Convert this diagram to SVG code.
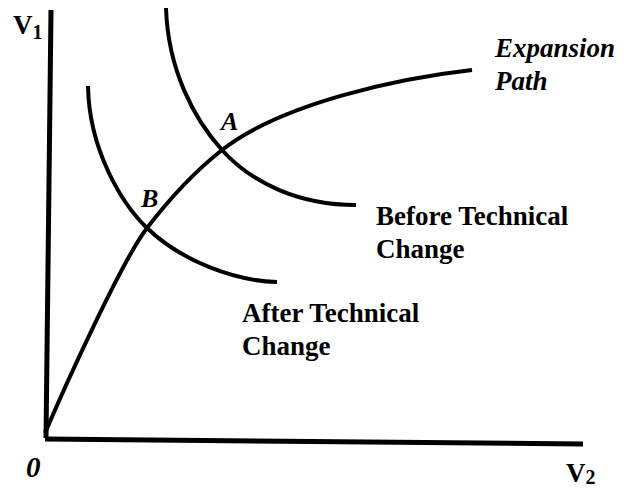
<svg xmlns="http://www.w3.org/2000/svg" width="625" height="489" viewBox="0 0 625 489">
  <style>
    .axis { fill: none; stroke: #000; stroke-width: 5; stroke-linecap: butt; }
    .curve { fill: none; stroke: #000; stroke-width: 4; stroke-linecap: butt; }
    .lbl { font-family: "Liberation Serif", "Times New Roman", serif; font-weight: bold; fill: #000; }
    .it { font-style: italic; }
  </style>
  <rect width="625" height="489" fill="#fff"/>

  <g id="connectors">
    <!-- axes -->
    <path id="axis-v1" class="axis" d="M51,10 L46,438"/>
    <path id="axis-v2" class="axis" d="M45,439 L583,444"/>
    <!-- expansion path -->
    <path id="expansion-path" class="curve" d="M45,433 C65,386 122,260.5 147,228 C172,195.5 197,169.7 222,150 C282,103 400,78 472,70"/>
    <!-- isoquant before technical change -->
    <path id="isoquant-before" class="curve" d="M166,8 C168,70 194,119 222,150 C252,183.5 300,205 356,205"/>
    <!-- isoquant after technical change -->
    <path id="isoquant-after" class="curve" d="M88,86 C89,150 122,204 147,228 C182,261.5 235,281 277,282"/>
  </g>

  <g id="axis-labels">
    <text class="lbl" x="13" y="34" font-size="27">V<tspan font-size="20" dy="5">1</tspan></text>
    <text class="lbl" x="566" y="482" font-size="27">V<tspan font-size="20" dy="2">2</tspan></text>
    <text class="lbl it" x="26" y="477" font-size="29">0</text>
  </g>

  <g id="point-a">
    <text class="lbl it" x="221" y="130" font-size="26">A</text>
  </g>
  <g id="point-b">
    <text class="lbl it" x="141" y="207" font-size="26">B</text>
  </g>

  <g id="label-expansion">
    <text class="lbl it" x="495" y="57" font-size="27">Expansion</text>
    <text class="lbl it" x="495" y="90" font-size="27">Path</text>
  </g>
  <g id="label-before">
    <text class="lbl" x="376" y="225" font-size="27">Before Technical</text>
    <text class="lbl" x="376" y="258" font-size="27">Change</text>
  </g>
  <g id="label-after">
    <text class="lbl" x="242" y="322" font-size="27">After Technical</text>
    <text class="lbl" x="242" y="355" font-size="27">Change</text>
  </g>
</svg>
